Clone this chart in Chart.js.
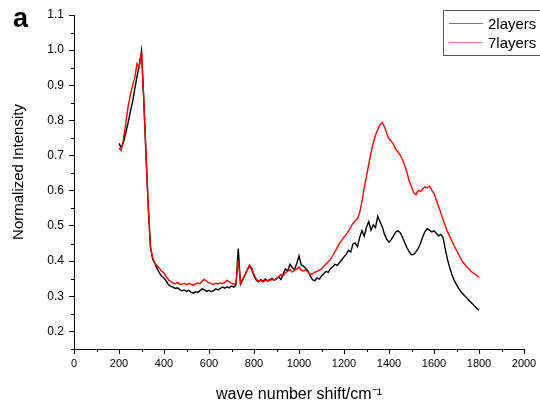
<!DOCTYPE html>
<html><head><meta charset="utf-8">
<script src="https://cdn.jsdelivr.net/npm/chart.js@4.4.1/dist/chart.umd.min.js"></script>
<style>html,body{margin:0;padding:0;background:#fff}#wrap{position:relative;width:540px;height:409px}</style>
</head><body><div id="wrap"><canvas id="c" width="540" height="409"></canvas></div>
<script>
const wavenumbers = [
 200,210,220,230,240,250,260,270,280,290,
 300,310,320,330,340,350,360,370,380,390,
 400,410,420,430,440,450,460,470,480,490,
 500,510,520,530,540,550,560,570,580,590,
 600,610,620,630,640,650,660,670,680,690,
 700,710,720,730,740,750,760,770,780,790,
 800,810,820,830,840,850,860,870,880,890,
 900,910,920,930,940,950,960,970,980,990,
 1000,1010,1020,1030,1040,1050,1060,1070,1080,1090,
 1100,1110,1120,1130,1140,1150,1160,1170,1180,1190,
 1200,1210,1220,1230,1240,1250,1260,1270,1280,1290,
 1300,1310,1320,1330,1340,1350,1360,1370,1380,1390,
 1400,1410,1420,1430,1440,1450,1460,1470,1480,1490,
 1500,1510,1520,1530,1540,1550,1560,1570,1580,1590,
 1600,1610,1620,1630,1640,1650,1660,1670,1680,1690,
 1700,1710,1720,1730,1740,1750,1760,1770,1780,1790,
 1800];
const layers2 = [
 0.735,0.722,0.738,0.765,0.792,0.824,0.852,0.889,0.925,0.958,
 0.998,0.862,0.705,0.556,0.438,0.405,0.392,0.378,0.366,0.357,
 0.352,0.343,0.333,0.328,0.326,0.322,0.324,0.319,0.316,0.318,
 0.314,0.317,0.312,0.309,0.313,0.311,0.316,0.321,0.318,0.314,
 0.317,0.313,0.316,0.321,0.318,0.322,0.326,0.323,0.327,0.324,
 0.329,0.326,0.332,0.436,0.334,0.346,0.361,0.374,0.386,0.377,
 0.358,0.346,0.341,0.347,0.343,0.349,0.344,0.347,0.351,0.346,
 0.349,0.355,0.348,0.364,0.378,0.372,0.391,0.382,0.376,0.393,
 0.415,0.389,0.386,0.379,0.372,0.358,0.347,0.344,0.352,0.349,
 0.358,0.364,0.371,0.368,0.379,0.384,0.391,0.388,0.396,0.404,
 0.412,0.419,0.431,0.426,0.449,0.452,0.441,0.468,0.487,0.471,
 0.497,0.512,0.488,0.503,0.495,0.527,0.512,0.498,0.476,0.462,
 0.454,0.461,0.472,0.483,0.486,0.481,0.468,0.452,0.438,0.426,
 0.418,0.419,0.427,0.436,0.451,0.469,0.484,0.492,0.488,0.483,
 0.486,0.479,0.472,0.476,0.468,0.435,0.405,0.381,0.361,0.345,
 0.333,0.322,0.313,0.306,0.299,0.292,0.285,0.279,0.272,0.266,
 0.260];
const layers7 = [
 0.722,0.714,0.748,0.792,0.838,0.871,0.899,0.921,0.962,0.951,
 0.996,0.858,0.702,0.553,0.441,0.409,0.394,0.386,0.379,0.371,
 0.366,0.355,0.347,0.342,0.338,0.336,0.339,0.335,0.334,0.337,
 0.333,0.336,0.334,0.331,0.335,0.338,0.336,0.344,0.348,0.342,
 0.338,0.336,0.334,0.337,0.335,0.338,0.336,0.339,0.346,0.341,
 0.337,0.334,0.338,0.402,0.336,0.349,0.362,0.376,0.389,0.381,
 0.362,0.349,0.343,0.345,0.341,0.346,0.343,0.345,0.348,0.346,
 0.351,0.356,0.362,0.358,0.367,0.372,0.376,0.369,0.374,0.378,
 0.383,0.374,0.372,0.375,0.368,0.362,0.364,0.368,0.371,0.374,
 0.378,0.385,0.392,0.398,0.405,0.416,0.427,0.439,0.451,0.459,
 0.468,0.476,0.485,0.497,0.508,0.514,0.521,0.538,0.571,0.608,
 0.641,0.676,0.708,0.736,0.758,0.774,0.788,0.794,0.782,0.763,
 0.748,0.741,0.732,0.718,0.711,0.701,0.689,0.672,0.652,0.628,
 0.611,0.594,0.589,0.601,0.598,0.606,0.611,0.608,0.613,0.602,
 0.592,0.574,0.556,0.538,0.518,0.501,0.483,0.471,0.456,0.443,
 0.431,0.418,0.406,0.396,0.388,0.381,0.374,0.368,0.364,0.359,
 0.354];
const seriesNames = ['2layers', '7layers'];
const xMajorTicks = [0,200,400,600,800,1000,1200,1400,1600,1800,2000];
const xMinorTicks = [100,300,500,700,900,1100,1300,1500,1700,1900];
const yMajorTicks = [0.2,0.3,0.4,0.5,0.6,0.7,0.8,0.9,1.0,1.1];
const yMinorTicks = [0.15,0.25,0.35,0.45,0.55,0.65,0.75,0.85,0.95,1.05];
const xTitle = 'wave number shift/cm⁻¹';
const yTitle = 'Normalized Intensity';
const panelLabel = 'a';

const FONT = '"Liberation Sans", Arial, Helvetica, sans-serif';

const extras = {
  id: 'extras',
  afterDraw(chart) {
    const ctx = chart.ctx;
    const xs = chart.scales.x, ys = chart.scales.y;
    ctx.save();
    ctx.strokeStyle = '#000';
    ctx.lineWidth = 1;
    ctx.beginPath();
    xMinorTicks.forEach(v => {
      const px = Math.round(xs.getPixelForValue(v)) + 0.5;
      ctx.moveTo(px, xs.top); ctx.lineTo(px, xs.top + 3);
    });
    yMinorTicks.forEach(v => {
      const py = Math.round(ys.getPixelForValue(v)) + 0.5;
      ctx.moveTo(ys.right, py); ctx.lineTo(ys.right - 3, py);
    });
    ctx.stroke();
    // y axis title
    ctx.save();
    ctx.translate(18.5, 172);
    ctx.rotate(-Math.PI / 2);
    ctx.fillStyle = '#000';
    ctx.font = '15px ' + FONT;
    ctx.textAlign = 'center';
    ctx.textBaseline = 'middle';
    ctx.fillText(yTitle, 0, 0);
    ctx.restore();
    // panel label
    ctx.fillStyle = '#000';
    ctx.font = 'bold 27px ' + FONT;
    ctx.textBaseline = 'alphabetic';
    ctx.textAlign = 'left';
    ctx.fillText(panelLabel, 13, 27);
    // legend box
    ctx.strokeStyle = '#555';
    ctx.strokeRect(443.5, 10.5, 110, 45);
    const rows = [23, 42];
    chart.data.datasets.forEach((ds, i) => {
      ctx.strokeStyle = ds.legendColor;
      ctx.beginPath();
      ctx.moveTo(449, rows[i] + 0.5); ctx.lineTo(483, rows[i] + 0.5);
      ctx.stroke();
      ctx.fillStyle = '#000';
      ctx.font = '15px ' + FONT;
      ctx.fillText(ds.label, 488, rows[i] + 5.5);
    });
    ctx.restore();
  }
};

new Chart(document.getElementById('c'), {
  type: 'line',
  data: {
    datasets: [
      { label: seriesNames[0], data: wavenumbers.map((x, i) => ({x: x, y: layers2[i]})),
        borderColor: '#000', legendColor: '#777', borderWidth: 1.4, pointRadius: 0, tension: 0, order: 1 },
      { label: seriesNames[1], data: wavenumbers.map((x, i) => ({x: x, y: layers7[i]})),
        borderColor: '#ff0000', legendColor: '#ff8080', borderWidth: 1.4, pointRadius: 0, tension: 0, order: 0 }
    ]
  },
  options: {
    responsive: false, animation: false, devicePixelRatio: 1,
    layout: { padding: { left: 0, top: 15, right: 16, bottom: 0 } },
    plugins: { legend: { display: false }, tooltip: { enabled: false } },
    scales: {
      x: {
        type: 'linear', min: 0, max: 2000,
        afterBuildTicks: s => { s.ticks = xMajorTicks.map(v => ({value: v})); },
        afterFit: s => { s.height = 60; },
        ticks: { color: '#000', font: { family: FONT, size: 11 }, padding: 3, maxRotation: 0, autoSkip: false,
                 callback: v => String(v) },
        grid: { drawOnChartArea: false, drawTicks: true, tickLength: 5, color: '#000' },
        border: { display: true, color: '#000', width: 1 },
        title: { display: true, text: xTitle, color: '#000', font: { family: FONT, size: 16 }, padding: { top: 0, bottom: 5 } }
      },
      y: {
        type: 'linear', min: 0.15, max: 1.1,
        afterBuildTicks: s => { s.ticks = yMajorTicks.map(v => ({value: v})); },
        afterFit: s => { s.width = 74; },
        ticks: { color: '#000', font: { family: FONT, size: 12 }, padding: 5, autoSkip: false,
                 callback: v => Number(v).toFixed(1) },
        grid: { drawOnChartArea: false, drawTicks: true, tickLength: 5, color: '#000' },
        border: { display: true, color: '#000', width: 1 },
        title: { display: false, text: yTitle }
      }
    }
  },
  plugins: [extras]
});
</script></body></html>
